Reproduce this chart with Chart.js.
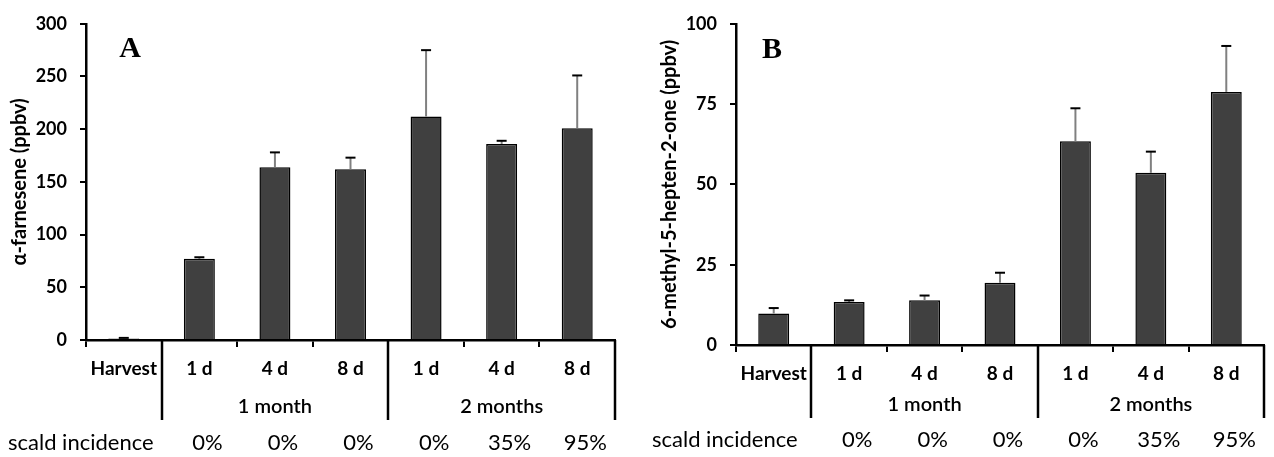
<!DOCTYPE html>
<html>
<head>
<meta charset="utf-8">
<script src="https://cdn.jsdelivr.net/npm/chart.js@4.4.1/dist/chart.umd.min.js"></script>
<style>
  body { margin: 0; background: #fff; }
  #wrap { position: relative; width: 1274px; height: 457px; }
  canvas { position: absolute; top: 0; }
  #chartA { left: 0; }
  #chartB { left: 640px; }
</style>
</head>
<body>
<div id="wrap">
  <canvas id="chartA" width="640" height="457"></canvas>
  <canvas id="chartB" width="634" height="457"></canvas>
</div>
<script>
// categories and groups
const categories = ['Harvest', '1 d', '4 d', '8 d', '1 d', '4 d', '8 d'];
const groupNames = ['1 month', '2 months'];
const scaldIncidence = ['', '0%', '0%', '0%', '0%', '35%', '95%'];

// panel A: alpha-farnesene (ppbv)
const farnesene = [1.5, 77, 164, 162, 212, 186, 201];
const farneseneErr = [0.5, 1.5, 14, 11, 63, 3, 50];
const farneseneTicks = [0, 50, 100, 150, 200, 250, 300];

// panel B: 6-methyl-5-hepten-2-one (ppbv)
const mho = [9.8, 13.4, 13.9, 19.4, 63.4, 53.6, 78.8];
const mhoErr = [1.7, 0.5, 1.5, 3.1, 10.3, 6.6, 14.3];
const mhoTicks = [0, 25, 50, 75, 100];

const FONT = 'Lato, "Open Sans", sans-serif';

// error bars: grey stem, black cap
const errorBars = {
  id: 'errorBars',
  afterDatasetsDraw(chart, args, opts) {
    const ctx = chart.ctx;
    const y = chart.scales.y;
    const meta = chart.getDatasetMeta(0);
    const vals = chart.data.datasets[0].data;
    ctx.save();
    meta.data.forEach((bar, i) => {
      const top = y.getPixelForValue(vals[i] + opts.err[i]);
      const base = y.getPixelForValue(vals[i]);
      ctx.strokeStyle = '#808080';
      ctx.lineWidth = 2;
      ctx.beginPath();
      ctx.moveTo(bar.x, base);
      ctx.lineTo(bar.x, top);
      ctx.stroke();
      ctx.strokeStyle = '#000';
      ctx.beginPath();
      ctx.moveTo(bar.x - 5, top);
      ctx.lineTo(bar.x + 5, top);
      ctx.stroke();
    });
    ctx.restore();
  }
};

// group dividers, group names, scald row, panel letter
const extras = {
  id: 'extras',
  afterDraw(chart, args, opts) {
    const ctx = chart.ctx;
    const x = chart.scales.x;
    const area = chart.chartArea;
    const n = categories.length;
    const edge = i => i >= n - 1 ? area.right : (x.getPixelForValue(i) + x.getPixelForValue(i + 1)) / 2;
    ctx.save();
    ctx.strokeStyle = '#000';
    ctx.lineWidth = 2.5;
    [0, 3, 6].forEach(i => {
      const px = Math.round(edge(i));
      ctx.beginPath();
      ctx.moveTo(px, area.bottom);
      ctx.lineTo(px, area.bottom + opts.dividerLen);
      ctx.stroke();
    });
    ctx.fillStyle = '#000';
    ctx.textAlign = 'center';
    ctx.textBaseline = 'middle';
    ctx.font = '600 20px ' + FONT;
    const g1 = (x.getPixelForValue(1) + x.getPixelForValue(3)) / 2;
    const g2 = (x.getPixelForValue(4) + x.getPixelForValue(6)) / 2;
    ctx.fillText(groupNames[0], g1, area.bottom + opts.groupDy);
    ctx.fillText(groupNames[1], g2, area.bottom + opts.groupDy);

    ctx.font = '22px ' + FONT;
    ctx.textAlign = 'left';
    ctx.fillText('scald incidence', opts.scaldX, opts.scaldY);
    ctx.textAlign = 'center';
    scaldIncidence.forEach((s, i) => {
      if (!s) return;
      ctx.fillText(s, x.getPixelForValue(i) + 8, opts.scaldY);
    });

    ctx.font = 'bold 30px "Liberation Serif", serif';
    ctx.fillText(opts.letter, opts.letterX, opts.letterY);
    ctx.restore();
  }
};

function makeChart(id, values, errs, ticks, title, pad, xHeight, ex) {
  const max = ticks[ticks.length - 1];
  return new Chart(document.getElementById(id), {
    type: 'bar',
    data: {
      labels: categories,
      datasets: [{
        data: values,
        backgroundColor: '#404040',
        borderColor: '#000',
        borderWidth: 1.5,
        barPercentage: 0.41,
        categoryPercentage: 1
      }]
    },
    options: {
      responsive: false,
      animation: false,
      layout: { padding: pad },
      plugins: {
        legend: { display: false },
        tooltip: { enabled: false },
        errorBars: { err: errs },
        extras: ex
      },
      scales: {
        x: {
          offset: true,
          grid: { drawOnChartArea: false, tickLength: 7, color: '#000', lineWidth: 2 },
          border: { color: '#000', width: 2.5 },
          ticks: { color: '#000', padding: 10, font: { family: FONT, size: 19, weight: 'bold' }, maxRotation: 0, autoSkip: false },
          afterFit(s) { s.height = xHeight; }
        },
        y: {
          min: 0,
          max: max,
          afterBuildTicks(s) { s.ticks = ticks.map(v => ({ value: v })); },
          grid: { drawOnChartArea: false, tickLength: 6, color: '#000', lineWidth: 2 },
          border: { color: '#000', width: 2.5 },
          ticks: { color: '#000', padding: 13, font: { family: FONT, size: 18, weight: 'bold' } },
          title: { display: true, text: title, color: '#000', padding: 0, font: { family: FONT, size: 20, weight: 'bold' } },
          afterFit(s) { s.width = 78; }
        }
      }
    },
    plugins: [errorBars, extras]
  });
}

makeChart('chartA', farnesene, farneseneErr, farneseneTicks, 'α-farnesene (ppbv)',
  { left: 8, right: 25, top: 21, bottom: 0 }, 117,
  { dividerLen: 80, groupDy: 67, scaldX: 8, scaldY: 443, letter: 'A', letterX: 130, letterY: 49 });

makeChart('chartB', mho, mhoErr, mhoTicks, '6-methyl-5-hepten-2-one (ppbv)',
  { left: 18, right: 10, top: 20, bottom: 0 }, 112,
  { dividerLen: 73, groupDy: 60, scaldX: 12, scaldY: 440, letter: 'B', letterX: 132, letterY: 50 });
</script>
</body>
</html>
